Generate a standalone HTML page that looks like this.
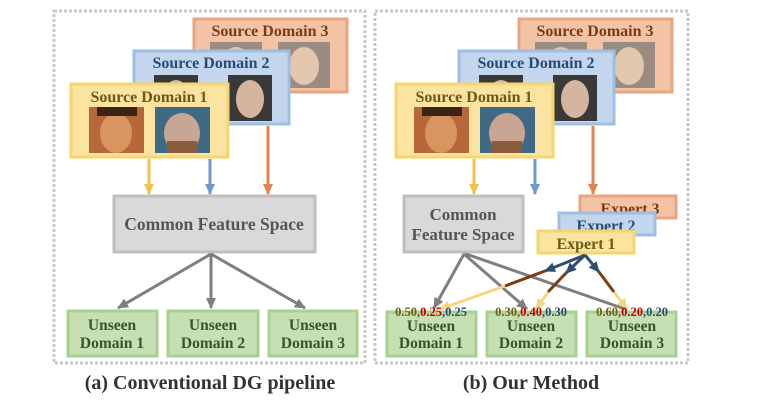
<!DOCTYPE html>
<html><head><meta charset="utf-8"><style>
html,body{margin:0;padding:0;background:#fff;width:768px;height:400px;overflow:hidden}
svg text{font-family:"Liberation Serif",serif;font-weight:bold}
</style></head><body>
<svg width="768" height="400" viewBox="0 0 768 400" xmlns="http://www.w3.org/2000/svg">
<defs>
<marker id="ag" markerWidth="11" markerHeight="10" refX="10" refY="5" orient="auto" markerUnits="userSpaceOnUse"><path d="M0,0 L11,5 L0,10 z" fill="#7f7f7f"/></marker>
<marker id="ay" markerWidth="11" markerHeight="10" refX="10" refY="5" orient="auto" markerUnits="userSpaceOnUse"><path d="M0,0 L11,5 L0,10 z" fill="#f2c14e"/></marker>
<marker id="ab" markerWidth="11" markerHeight="10" refX="10" refY="5" orient="auto" markerUnits="userSpaceOnUse"><path d="M0,0 L11,5 L0,10 z" fill="#6b9bd1"/></marker>
<marker id="ao" markerWidth="11" markerHeight="10" refX="10" refY="5" orient="auto" markerUnits="userSpaceOnUse"><path d="M0,0 L11,5 L0,10 z" fill="#e0844f"/></marker>
<marker id="an" markerWidth="11" markerHeight="10" refX="10" refY="5" orient="auto" markerUnits="userSpaceOnUse"><path d="M0,0 L11,5 L0,10 z" fill="#2f4f6f"/></marker>
<marker id="al" markerWidth="11" markerHeight="10" refX="10" refY="5" orient="auto" markerUnits="userSpaceOnUse"><path d="M0,0 L11,5 L0,10 z" fill="#f5d680"/></marker>
<g id="face1"><rect width="55" height="46" fill="#b8673a"/><ellipse cx="27" cy="26" rx="16" ry="20" fill="#d8955f"/><rect x="8" y="0" width="40" height="9" fill="#3a2418"/></g>
<g id="face2"><rect width="55" height="46" fill="#3f6a86"/><ellipse cx="27" cy="26" rx="18" ry="20" fill="#c9a593"/><rect x="12" y="34" width="30" height="12" fill="#8a5a3a"/></g>
<g id="face3"><rect width="44" height="46" fill="#3a3838"/><ellipse cx="22" cy="24" rx="14" ry="19" fill="#d6b59e"/></g>
<g id="face4"><rect width="52" height="46" fill="#9a8c80"/><ellipse cx="26" cy="24" rx="15" ry="19" fill="#e2c6ae"/></g>
<g id="src">
<rect x="124" y="1" width="153" height="73" fill="#f4c3a6" stroke="#e7a581" stroke-width="3"/>
<use href="#face4" x="140" y="24"/>
<use href="#face4" x="208" y="24"/>
<text x="200" y="18" font-size="16" fill="#7b3b16" text-anchor="middle">Source Domain 3</text>
<rect x="64" y="33" width="155" height="73" fill="#c3d6ee" stroke="#9dbfe3" stroke-width="3"/>
<use href="#face3" x="84" y="57"/>
<use href="#face3" x="158" y="57"/>
<text x="141" y="50" font-size="16" fill="#284b77" text-anchor="middle">Source Domain 2</text>
<rect x="1" y="66" width="157" height="73" fill="#fbe3a0" stroke="#f6d46e" stroke-width="3"/>
<text x="79" y="84" font-size="16" fill="#6e5a14" text-anchor="middle">Source Domain 1</text>
<use href="#face1" x="19" y="89"/>
<use href="#face2" x="85" y="89"/>
<line x1="79" y1="141" x2="79" y2="176" stroke="#f2c14e" stroke-width="3" marker-end="url(#ay)"/>
<line x1="140" y1="141" x2="140" y2="176" stroke="#6b9bd1" stroke-width="3" marker-end="url(#ab)"/>
<line x1="198" y1="108" x2="198" y2="176" stroke="#e0844f" stroke-width="3" marker-end="url(#ao)"/>
</g>
</defs>

<rect x="54" y="11" width="311" height="352" fill="none" stroke="#c8c8c8" stroke-width="3" stroke-dasharray="3,2"/>
<rect x="375" y="11" width="313" height="352" fill="none" stroke="#c8c8c8" stroke-width="3" stroke-dasharray="3,2"/>

<!-- LEFT -->
<use href="#src" x="70" y="18"/>

<rect x="114" y="196" width="201" height="56" fill="#d9d9d9" stroke="#bfbfbf" stroke-width="3"/>
<text x="214" y="230" font-size="17.5" fill="#555" text-anchor="middle">Common Feature Space</text>

<line x1="211" y1="254" x2="118" y2="308" stroke="#7f7f7f" stroke-width="3" marker-end="url(#ag)"/>
<line x1="211" y1="254" x2="211" y2="308" stroke="#7f7f7f" stroke-width="3" marker-end="url(#ag)"/>
<line x1="211" y1="254" x2="305" y2="308" stroke="#7f7f7f" stroke-width="3" marker-end="url(#ag)"/>

<g fill="#c6e0b4" stroke="#a9d18e" stroke-width="3">
<rect x="68" y="311" width="89" height="45"/><rect x="168" y="311" width="90" height="45"/><rect x="269" y="311" width="88" height="45"/>
</g>
<g font-size="15.5" fill="#375623" text-anchor="middle">
<text x="112" y="330">Unseen</text><text x="112" y="348">Domain 1</text>
<text x="213" y="330">Unseen</text><text x="213" y="348">Domain 2</text>
<text x="313" y="330">Unseen</text><text x="313" y="348">Domain 3</text>
</g>
<text x="210" y="389" font-size="20" fill="#333" text-anchor="middle">(a) Conventional DG pipeline</text>

<!-- RIGHT -->
<use href="#src" x="395" y="18"/>

<rect x="404" y="196" width="119" height="56" fill="#d9d9d9" stroke="#bfbfbf" stroke-width="3"/>
<text x="463" y="220" font-size="17" fill="#555" text-anchor="middle">Common</text>
<text x="463" y="240" font-size="17" fill="#555" text-anchor="middle">Feature Space</text>

<rect x="580" y="196" width="96" height="22" fill="#f4c3a6" stroke="#e7a581" stroke-width="3"/>
<text x="630" y="214" font-size="16" fill="#7b3b16" text-anchor="middle">Expert 3</text>
<rect x="559" y="213" width="96" height="22" fill="#c3d6ee" stroke="#9dbfe3" stroke-width="3"/>
<text x="606" y="231" font-size="16" fill="#284b77" text-anchor="middle">Expert 2</text>
<rect x="538" y="231" width="96" height="22" fill="#fbe3a0" stroke="#f6d46e" stroke-width="3"/>
<text x="586" y="249" font-size="16" fill="#6e5a14" text-anchor="middle">Expert 1</text>

<g stroke="#7f7f7f" stroke-width="3">
<line x1="464" y1="254" x2="434" y2="308" marker-end="url(#ag)"/>
<line x1="464" y1="254" x2="527" y2="309" marker-end="url(#ag)"/>
<line x1="466" y1="254" x2="625" y2="309"/>
</g>
<g stroke-width="3">
<line x1="585" y1="255" x2="545" y2="271" stroke="#2f4f6f" marker-end="url(#an)"/>
<line x1="545" y1="271" x2="505" y2="286" stroke="#7a3e12"/>
<line x1="505" y1="286" x2="440" y2="309" stroke="#f5d680" marker-end="url(#al)"/>
<line x1="585" y1="255" x2="566" y2="273" stroke="#2f4f6f" marker-end="url(#an)"/>
<line x1="566" y1="273" x2="548" y2="292" stroke="#7a3e12"/>
<line x1="548" y1="292" x2="536" y2="309" stroke="#f5d680" marker-end="url(#al)"/>
<line x1="585" y1="255" x2="599" y2="272" stroke="#2f4f6f" marker-end="url(#an)"/>
<line x1="599" y1="272" x2="614" y2="292" stroke="#7a3e12"/>
<line x1="614" y1="292" x2="627" y2="309" stroke="#f5d680" marker-end="url(#al)"/>
</g>

<g fill="#c6e0b4" stroke="#a9d18e" stroke-width="3">
<rect x="387" y="312" width="89" height="44"/><rect x="487" y="312" width="89" height="44"/><rect x="587" y="312" width="89" height="44"/>
</g>
<g font-size="15.5" fill="#375623" text-anchor="middle">
<text x="431" y="331">Unseen</text><text x="431" y="348">Domain 1</text>
<text x="531" y="331">Unseen</text><text x="531" y="348">Domain 2</text>
<text x="632" y="331">Unseen</text><text x="632" y="348">Domain 3</text>
</g>
<g font-size="12.5" text-anchor="middle">
<text x="431" y="316"><tspan fill="#6e5a14">0.50,</tspan><tspan fill="#c00000">0.25</tspan><tspan fill="#284b77">,0.25</tspan></text>
<text x="531" y="316"><tspan fill="#6e5a14">0.30,</tspan><tspan fill="#c00000">0.40</tspan><tspan fill="#284b77">,0.30</tspan></text>
<text x="632" y="316"><tspan fill="#6e5a14">0.60,</tspan><tspan fill="#c00000">0.20</tspan><tspan fill="#284b77">,0.20</tspan></text>
</g>
<text x="531" y="389" font-size="20" fill="#333" text-anchor="middle">(b) Our Method</text>
</svg>
</body></html>
